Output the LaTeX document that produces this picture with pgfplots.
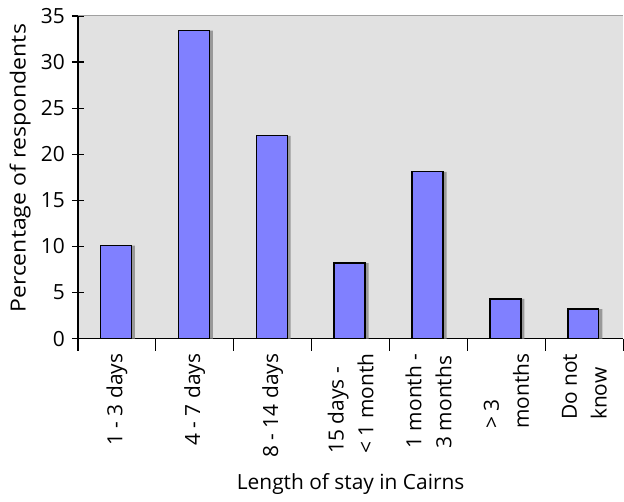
\documentclass[border=0pt]{standalone}
\usepackage{fontspec}
\setmainfont{Open Sans}
\usepackage{pgfplots}
\pgfplotsset{compat=1.18}
\definecolor{bargc}{HTML}{8080FF}
\definecolor{bgc}{HTML}{E1E1E1}
\definecolor{topc}{HTML}{A0A0A0}
\begin{document}
\fontsize{21}{30}\selectfont
\begin{tikzpicture}
\begin{axis}[
  name=ax,
  scale only axis,
  width=546bp, height=323bp,
  xmin=0, xmax=7, ymin=0, ymax=35,
  ytick={0,5,...,35},
  xtick={0.5,1.5,...,6.5},
  xticklabels={{1 - 3 days},{4 - 7 days},{8 - 14 days},{15 days -\\< 1 month},{1 month -\\3 months},{> 3\\months},{Do not\\know}},
  minor xtick={0,1,...,7},
  major x tick style={draw=none},
  tick align=center,
  major tick length=12bp,
  minor tick length=12bp,
  tick style={black, line width=1.2bp},
  axis background/.style={fill=bgc},
  axis x line*=bottom, axis y line*=left,
  axis line style={black, line width=1.4bp, -},
  ybar, bar width=31bp,
  x tick label style={rotate=90, anchor=east, align=left, font=\fontsize{21}{30}\selectfont},
  xticklabel shift=-4bp,
  y tick label style={font=\fontsize{21}{24}\selectfont},
  /pgf/number format/assume math mode=true,
  ylabel={Percentage of respondents},
  xlabel={Length of stay in Cairns},
  ylabel style={at={(axis description cs:-0.106,0.528)}, anchor=center, xscale=1.1, font=\fontsize{21}{24}\selectfont},
  xlabel style={at={(axis description cs:0.5,-0.450)}, anchor=center, font=\fontsize{21}{24}\selectfont},
  clip=false,
]
\addplot[fill=gray!80, draw=none, bar shift=2.5bp] coordinates {(0.5,10.1) (1.5,33.4) (2.5,22.0) (3.5,8.2) (4.5,18.1) (5.5,4.3) (6.5,3.2)};
\addplot[fill=bargc, draw=black, line width=1.3bp, bar shift=-1bp] coordinates {(0.5,10.1) (1.5,33.4) (2.5,22.0) (3.5,8.2) (4.5,18.1) (5.5,4.3) (6.5,3.2)};
\draw[topc, line width=1bp] (rel axis cs:0,1) -- (rel axis cs:1,1);
\end{axis}
\path (ax.south west) ++(-78bp,-163bp) coordinate (bbsw);
\path (ax.north east) ++(0bp,16bp) coordinate (bbne);
\path (bbsw) rectangle (bbne);
\end{tikzpicture}
\end{document}
